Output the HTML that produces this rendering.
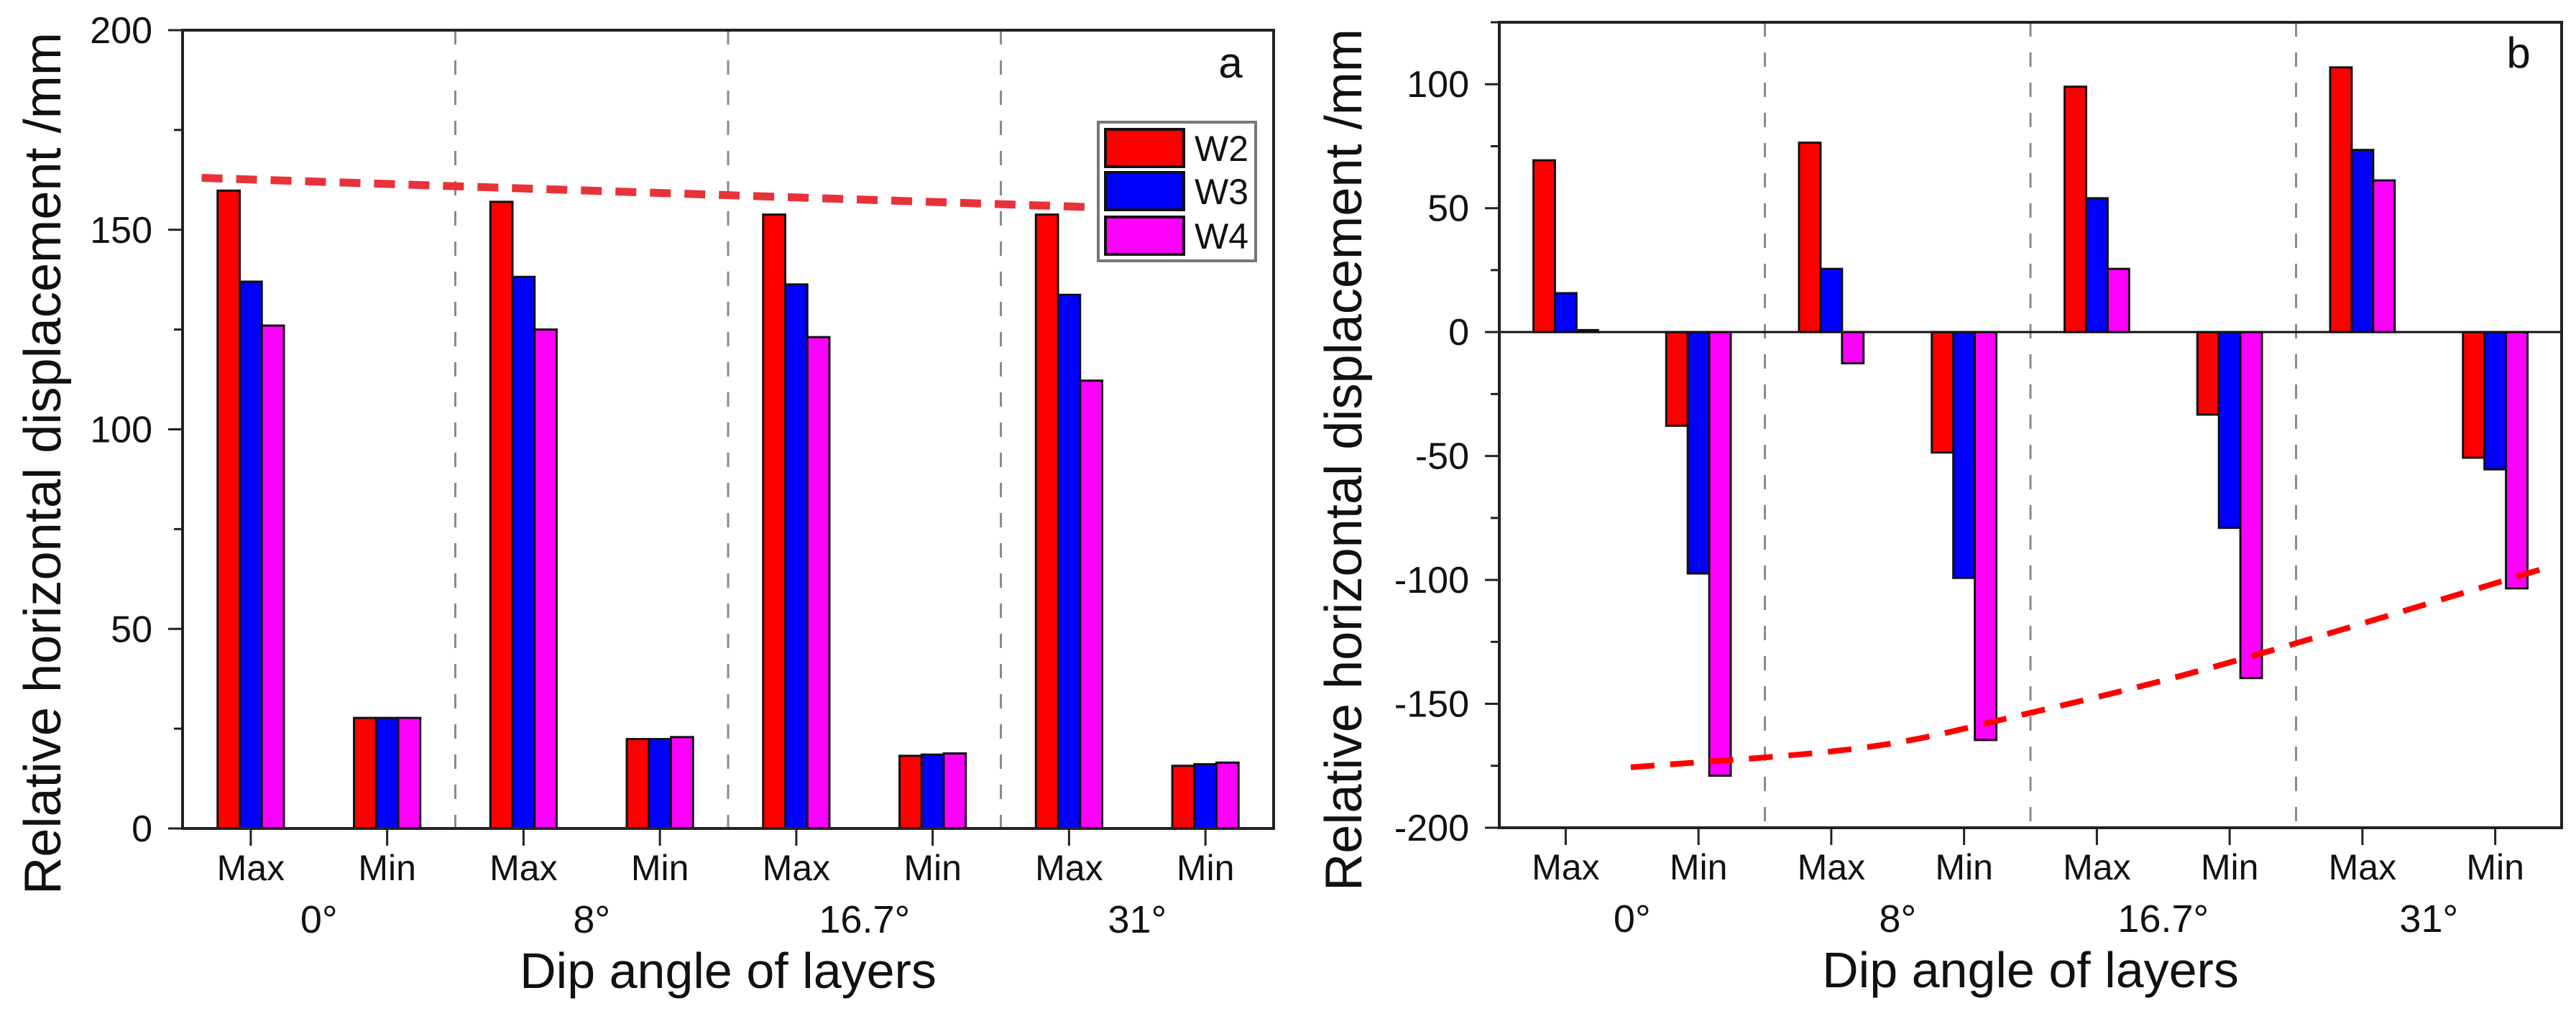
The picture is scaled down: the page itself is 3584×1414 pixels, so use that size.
<!DOCTYPE html>
<html><head><meta charset="utf-8"><style>
html,body{margin:0;padding:0;background:#fff;}
svg{display:block;font-family:"Liberation Sans",Arial,sans-serif;}
</style></head><body>
<svg id="fig" width="3584" height="1414" viewBox="0 0 3584 1414" xmlns="http://www.w3.org/2000/svg">
<rect x="0" y="0" width="3584" height="1414" fill="#fff"/>
</svg>
<script>
const categories = ["Max","Min","Max","Min","Max","Min","Max","Min"];
const groups = ["0°","8°","16.7°","31°"];
const seriesNames = ["W2","W3","W4"];
const seriesColors = ["#ff0000","#0000ff","#ff00ff"];
// Chart a values
const aW2 = [159.8, 27.7, 157.0, 22.4, 153.8, 18.2, 153.8, 15.7];
const aW3 = [137.0, 27.7, 138.2, 22.4, 136.3, 18.5, 133.7, 16.1];
const aW4 = [126.0, 27.7, 125.0, 22.9, 123.1, 18.8, 112.2, 16.5];
const aTicks = [0, 50, 100, 150, 200];
const aTrendX = [0.14, 6.63];
const aTrendY = [163.0, 155.7];
// Chart b values
const bW2 = [69.3, -37.8, 76.4, -48.6, 99.0, -33.3, 106.8, -50.7];
const bW3 = [15.7, -97.4, 25.5, -99.2, 54.0, -79.0, 73.5, -55.4];
const bW4 = [0.8, -179.0, -12.6, -164.6, 25.5, -139.6, 61.2, -103.4];
const bTicks = [-200, -150, -100, -50, 0, 50, 100];
const bTrendX = [0.99, 2.74, 3.97, 5.52, 7.94];
const bTrendY = [-175.6, -167.7, -154.0, -133.0, -94.2];

const NS = "http://www.w3.org/2000/svg";
const svg = document.getElementById('fig');
function mk(tag, attrs, parent){
  const e = document.createElementNS(NS, tag);
  for (const k in attrs) e.setAttribute(k, attrs[k]);
  (parent||svg).appendChild(e);
  return e;
}

function drawChart(cfg){
  const g = mk('g', {});
  
  
  const L=cfg.left, R=cfg.right, T=cfg.top, B=cfg.bottom;
  const catW = (R-L)/categories.length;
  const y = v => cfg.y0 - (v - cfg.ymin)*(B-cfg.y0)/(cfg.ymin-cfg.ymin) ;
  const yScale = v => B - (v - cfg.ymin)/(cfg.ymax - cfg.ymin)*(B-T);
  const xU = u => L + u*catW;
  // separators
  for (let i=1;i<groups.length;i++){
    const x = L + i*2*catW;
    const s = mk('line',{x1:x,y1:T,x2:x,y2:B,stroke:'#8a8a8a','stroke-width':3,'stroke-dasharray':'20 22'},g);
    
    
  }
  // bars
  const bw = catW*0.162;
  const y0 = yScale(0);
  const series = cfg.series;
  for (let c=0;c<categories.length;c++){
    const cx = L + (c+0.5)*catW;
    for (let s=0;s<3;s++){
      const v = series[s][c];
      const yv = yScale(v);
      const r = mk('rect',{x:cx-1.5*bw+s*bw,y:Math.min(yv,y0),width:bw,height:Math.max(Math.abs(y0-yv),1.5),fill:seriesColors[s],stroke:'#111','stroke-width':3},g);
      
      
    }
  }
  // zero line for b
  if (cfg.ymin < 0){
    const z = mk('line',{x1:L,y1:y0,x2:R,y2:y0,stroke:'#111','stroke-width':3},g);
    
    
  }
  // trend line
  let d='';
  for (let i=0;i<cfg.trendX.length;i++){
    d += (i?'L':'M') + xU(cfg.trendX[i]) + ' ' + yScale(cfg.trendY[i]);
  }
  if (cfg.trendX.length>2){
    // smooth via Catmull-Rom
    const pts = cfg.trendX.map((u,i)=>[xU(u),yScale(cfg.trendY[i])]);
    d = 'M'+pts[0][0]+' '+pts[0][1];
    for (let i=0;i<pts.length-1;i++){
      const p0=pts[Math.max(i-1,0)],p1=pts[i],p2=pts[i+1],p3=pts[Math.min(i+2,pts.length-1)];
      d += ' C'+(p1[0]+(p2[0]-p0[0])/6)+' '+(p1[1]+(p2[1]-p0[1])/6)+' '+(p2[0]-(p3[0]-p1[0])/6)+' '+(p2[1]-(p3[1]-p1[1])/6)+' '+p2[0]+' '+p2[1];
    }
  }
  const tl = mk('path',{d:d,fill:'none',stroke:cfg.trendColor,'stroke-width':cfg.trendW,'stroke-dasharray':cfg.trendDash},g);
  
  
  // frame
  const fr = mk('rect',{x:L,y:T,width:R-L,height:B-T,fill:'none',stroke:'#222','stroke-width':4},g);
  
  
  // y ticks
  const step = cfg.yTicks[1]-cfg.yTicks[0];
  for (let v=cfg.ymin; v<=cfg.ymax+0.001; v+=step/2){
    const yy = yScale(v);
    const major = cfg.yTicks.indexOf(v) >= 0;
    const t = mk('line',{x1:L-(major?20:12),y1:yy,x2:L,y2:yy,stroke:'#222','stroke-width':3},g);
    
    
    const t2 = mk('line',{x1:R,y1:yy,x2:R+(major?0:0),y2:yy,stroke:'#222','stroke-width':3},g);
  }
  for (const v of cfg.yTicks){
    const tx = mk('text',{x:L-42,y:yScale(v)+18,'font-size':52,'text-anchor':'end',fill:'#111'},g);
    tx.textContent = String(v);
    
    
  }
  // x ticks & labels
  for (let c=0;c<categories.length;c++){
    const cx = L+(c+0.5)*catW;
    const t = mk('line',{x1:cx,y1:B,x2:cx,y2:B+24,stroke:'#222','stroke-width':3},g);
    
    
    const tx = mk('text',{x:cx,y:B+72,'font-size':50,'text-anchor':'middle',fill:'#111'},g);
    tx.textContent = categories[c];
    
    
  }
  for (let i=0;i<groups.length;i++){
    const cx = L+(i*2+1)*catW;
    const tx = mk('text',{x:cx,y:B+145,'font-size':54,'text-anchor':'middle',fill:'#111'},g);
    tx.textContent = groups[i];
    
    
  }
  const xt = mk('text',{x:(L+R)/2,y:B+222,'font-size':70,'text-anchor':'middle',fill:'#111'},g);
  xt.textContent = 'Dip angle of layers';
  
  
  const yt = mk('text',{x:0,y:0,'font-size':72,'text-anchor':'middle',fill:'#111',transform:'translate('+cfg.ytitleX+','+cfg.ytitleY+') rotate(-90)',textLength:1200,lengthAdjust:'spacingAndGlyphs'},g);
  yt.textContent = 'Relative horizontal displacement  /mm';
  
  
  const pl = mk('text',{x:cfg.panelX,y:cfg.panelY,'font-size':60,'text-anchor':'middle',fill:'#111'},g);
  pl.textContent = cfg.panel;
  
  
}

drawChart({name:'chart-a',left:254,right:1772,top:42,bottom:1153,ymin:0,ymax:200,yTicks:aTicks,
  series:[aW2,aW3,aW4],trendX:aTrendX,trendY:aTrendY,trendColor:'#e8323a',trendW:11,trendDash:'29 19',
  ytitleX:84,ytitleY:645,panel:'a',panelX:1712,panelY:108});
drawChart({name:'chart-b',left:2086,right:3564,top:31,bottom:1152,ymin:-200,ymax:125,yTicks:bTicks,
  series:[bW2,bW3,bW4],trendX:bTrendX,trendY:bTrendY,trendColor:'#ff0000',trendW:8,trendDash:'33 22',
  ytitleX:1894,ytitleY:640,panel:'b',panelX:3504,panelY:94});

// Legend (chart a)
const lg = mk('g',{});


const lb = mk('rect',{x:1528,y:170,width:219,height:193,fill:'#fff',stroke:'#777','stroke-width':4},lg);


const rowY=[180,240,302];
for (let i=0;i<3;i++){
  const sw = mk('rect',{x:1538,y:rowY[i],width:109,height:52,fill:seriesColors[i],stroke:'#111','stroke-width':4},lg);
  
  
  const t = mk('text',{x:1662,y:rowY[i]+44,'font-size':50,fill:'#111'},lg);
  t.textContent = seriesNames[i];
  
  
}
</script>
</body></html>
